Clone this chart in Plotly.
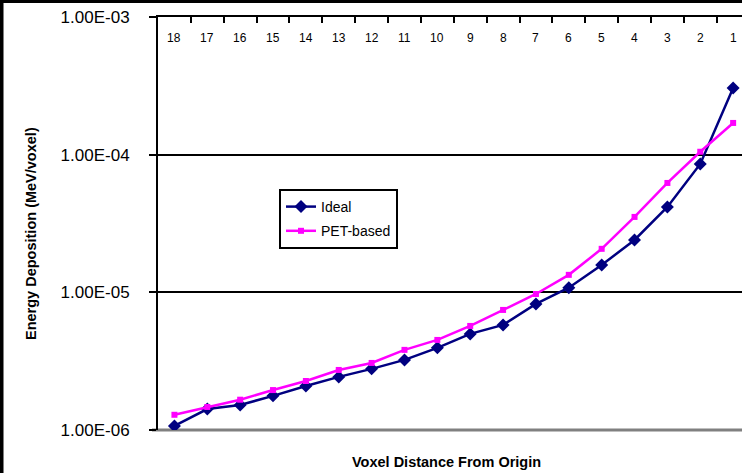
import plotly.graph_objects as go

categories = ["18", "17", "16", "15", "14", "13", "12", "11", "10",
              "9", "8", "7", "6", "5", "4", "3", "2", "1"]
ideal = [1.07e-6, 1.42e-6, 1.52e-6, 1.77e-6, 2.09e-6, 2.43e-6, 2.78e-6, 3.23e-6,
         3.95e-6, 4.99e-6, 5.80e-6, 8.24e-6, 1.08e-5, 1.58e-5, 2.40e-5, 4.17e-5,
         8.56e-5, 3.05e-4]
pet_based = [1.29e-6, 1.47e-6, 1.66e-6, 1.95e-6, 2.27e-6, 2.73e-6, 3.07e-6, 3.82e-6,
             4.51e-6, 5.70e-6, 7.45e-6, 9.73e-6, 1.34e-5, 2.07e-5, 3.53e-5, 6.23e-5,
             1.05e-4, 1.70e-4]
y_tickvals = [1e-6, 1e-5, 1e-4, 1e-3]
y_ticktext = ["1.00E-06", "1.00E-05", "1.00E-04", "1.00E-03"]

FONT = "Arial, Liberation Sans, sans-serif"
W, H = 742, 473
PLOT_L, PLOT_T, PLOT_B = 158, 17, 430


def px(x):
    return x / W


def py(y):
    return 1 - y / H


fig = go.Figure()
fig.add_trace(go.Scatter(
    x=categories, y=ideal, name="Ideal", mode="lines+markers",
    line=dict(color="#000080", width=2.5),
    marker=dict(symbol="diamond", size=10, color="#000080"),
    legendgroup="a"))
fig.add_trace(go.Scatter(
    x=categories, y=pet_based, name="PET-based", mode="lines+markers",
    line=dict(color="#FF00FF", width=2.5),
    marker=dict(symbol="square", size=6, color="#FF00FF"),
    legendgroup="b"))

shapes = [
    # bottom gray axis line
    dict(type="line", xref="paper", yref="paper", x0=px(152), x1=1,
         y0=py(PLOT_B), y1=py(PLOT_B),
         line=dict(color="#808080", width=3), layer="between"),
    # outer frame of the picture (left and top edges)
    dict(type="rect", xref="paper", yref="paper", x0=0, x1=px(3.5),
         y0=0, y1=1, fillcolor="black", line=dict(width=0), layer="above"),
    dict(type="rect", xref="paper", yref="paper", x0=0, x1=1,
         y0=py(3), y1=1, fillcolor="black", line=dict(width=0), layer="above"),
]

annotations = [
    dict(text="<b>Energy Deposition (MeV/voxel)</b>", xref="paper", yref="paper",
         x=px(31), y=py(234), textangle=-90, showarrow=False,
         font=dict(family=FONT, size=14.5, color="black"),
         xanchor="center", yanchor="middle"),
    dict(text="<b>Voxel Distance From Origin</b>", xref="paper", yref="paper",
         x=px(446), y=py(462), showarrow=False,
         font=dict(family=FONT, size=14.5, color="black"),
         xanchor="center", yanchor="middle"),
]
# category labels drawn just below the top axis line, inside the plot
for i, c in enumerate(categories):
    annotations.append(dict(
        text=c, xref="x", yref="paper", x=i, y=py(38), showarrow=False,
        font=dict(family=FONT, size=12, color="black"),
        xanchor="center", yanchor="middle"))

fig.update_layout(
    width=W, height=H,
    margin=dict(l=0, r=0, t=0, b=0, pad=0),
    paper_bgcolor="white", plot_bgcolor="white",
    font=dict(family=FONT, color="black"),
    showlegend=True,
    legend=dict(x=px(279), y=py(189), xanchor="left", yanchor="top",
                bgcolor="white", bordercolor="black", borderwidth=2,
                font=dict(family=FONT, size=14, color="black"),
                tracegroupgap=3, itemwidth=30),
    shapes=shapes,
    annotations=annotations,
    xaxis=dict(
        domain=[px(PLOT_L), 1],
        type="category", side="top", range=[-0.5, 17.27],
        showline=True, linecolor="black", linewidth=2,
        ticks="inside", ticklen=6, tickwidth=2, tickcolor="black",
        tickson="boundaries", showticklabels=False,
        showgrid=False, zeroline=False, fixedrange=True, automargin=False),
    yaxis=dict(
        domain=[py(PLOT_B), py(PLOT_T)],
        type="log", range=[-6, -3],
        tickvals=y_tickvals, ticktext=y_ticktext,
        showline=True, linecolor="black", linewidth=2,
        ticks="outside", ticklen=7, tickwidth=2, tickcolor="black",
        tickfont=dict(family=FONT, size=17, color="black"),
        ticklabelstandoff=16,
        showgrid=True, gridcolor="black", gridwidth=2,
        zeroline=False, fixedrange=True, automargin=False),
)

fig.write_html("out.html")
